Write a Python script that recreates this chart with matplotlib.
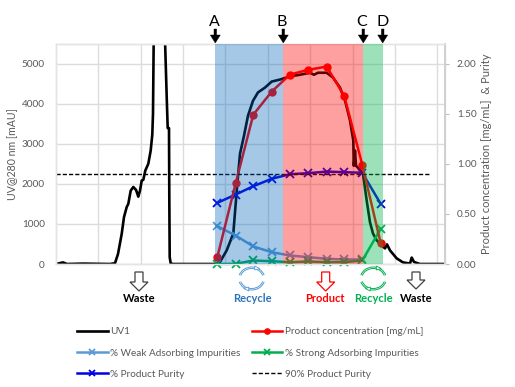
import matplotlib
matplotlib.use("Agg")
import matplotlib.pyplot as plt
from matplotlib.patches import Arc, Polygon
from matplotlib.transforms import Affine2D

W, H = 515, 387
plt.rcParams['font.family'] = ['Lato', 'DejaVu Sans']
GRAY = '#595959'

uv_x = [56, 63, 67, 83, 110, 115, 118, 121.7, 124, 126.7, 128.3, 130.7, 133.3, 136, 138.3, 140, 141.7, 143.3, 145.3, 148.3, 150.7, 152.3, 153, 153.7, 158, 165, 166.7, 167.7, 169, 169.3, 169.7, 170.7, 173, 215,
        220, 226.7, 233.3, 237.3, 240, 244, 248, 253, 258, 265, 271.7, 280, 290, 300, 310, 314, 318, 326.7, 333, 340, 345, 350, 353.3, 353.8, 355, 356, 360, 363, 366.7, 370, 373, 376.7, 381.7, 385, 387, 390, 396.7, 403, 410, 411.7, 414, 420, 445]
uv_y = [0, 40, 0, 10, 0, 20, 250, 750, 1170, 1420, 1500, 1830, 1920, 1850, 1680, 1830, 2080, 2100, 2330, 2500, 2830, 3230, 3750, 5600, 7500, 5600, 4170, 3390, 3390, 1670, 170, 15, 0, 0,
        50, 340, 760, 2000, 2750, 3200, 3700, 4070, 4280, 4400, 4550, 4600, 4680, 4720, 4770, 4720, 4770, 4770, 4650, 4400, 4080, 3580, 3080, 2450, 2830, 2450, 2350, 2250, 1580, 1040, 760, 590, 460, 390, 490, 340, 140, 40, 10, 160, 50, 0, 0]

sample_x = [217.3, 235.7, 253.3, 271.7, 290, 308.3, 326.7, 344.3, 362.3, 380.7]
conc = [0.068, 0.806, 1.49, 1.72, 1.89, 1.937, 1.97, 1.674, 0.99, 0.207]
purity = [0.61, 0.693, 0.776, 0.85, 0.896, 0.906, 0.922, 0.916, 0.91, 0.60]
weak = [0.377, 0.284, 0.175, 0.118, 0.085, 0.068, 0.052, 0.045, 0.045]
strong = [0.0, 0.002, 0.035, 0.028, 0.018, 0.025, 0.018, 0.018, 0.035, 0.351]
target_purity = 0.893
target_x = [56, 431]

left_ticks = [0, 1000, 2000, 3000, 4000, 5000]
right_ticks = [0.0, 0.5, 1.0, 1.5, 2.0]
grid_x = [98.2, 140.5, 182.7, 225.2, 267.7, 310, 352.7, 395, 436.7]
region_edges = [215.3, 283.3, 363.3, 382.7]
region_names = ['A', 'B', 'C', 'D']
region_colors = [('#0062bd', 0.35), ('#ff0000', 0.373), ('#00b34d', 0.39)]

fig = plt.figure(figsize=(W / 100, H / 100), dpi=100)
ax = fig.add_axes([56 / W, 1 - 264 / H, (445 - 56) / W, (264 - 44) / H])
ax2 = ax.twinx()
ax.set_xlim(56, 445)
ax.set_ylim(0, 5487)
ax2.set_ylim(0, 5487 * 2.0 / 5000)
ax.set_xticks(grid_x)
ax.set_xticklabels([])
ax.set_yticks(left_ticks)
ax2.set_yticks(right_ticks)
ax2.set_yticklabels([f'{v:.2f}' for v in right_ticks])
ax.grid(True, color='#dcdcdc', lw=1.0)
ax.set_axisbelow(True)
ax.tick_params(length=0, labelsize=7.2, labelcolor=GRAY, pad=8)
ax2.tick_params(length=3, width=0.8, color='#bfbfbf', labelsize=7.2, labelcolor=GRAY, pad=5.5)
for a in (ax, ax2):
    a.patch.set_visible(False)
    for s in a.spines.values():
        s.set_color('#e4e4e4')
        s.set_linewidth(1.0)
ax2.spines['right'].set_color('#d0d0d0')
ax2.spines['right'].set_linewidth(1.4)
ax.set_zorder(1)
ax2.set_zorder(2)

l_uv, = ax.plot(uv_x, uv_y, color='black', lw=1.9, label='UV1', solid_joinstyle='round')
mk = dict(ms=6, mew=1.3, lw=1.8, clip_on=False)
l_weak, = ax2.plot(sample_x[:9], weak, color='#5b9bd5', marker='x', label='% Weak Adsorbing Impurities', **mk)
l_pur, = ax2.plot(sample_x, purity, color='#0000e6', marker='x', label='% Product Purity', **mk)
l_strong, = ax2.plot(sample_x, strong, color='#00b050', marker='x', label='% Strong Adsorbing Impurities', **mk)
l_conc, = ax2.plot(sample_x, conc, color='#ff0000', marker='o', ms=5, lw=1.8, clip_on=False, label='Product concentration [mg/mL]')
l_target, = ax2.plot(target_x, [target_purity] * 2, color='black', lw=1.0, dashes=(3, 1.5), label='90% Product Purity')

for i, (c, al) in enumerate(region_colors):
    ax2.axvspan(region_edges[i], region_edges[i + 1], color=c, alpha=al, lw=0, zorder=10)

# figure-pixel transform (origin top-left)
px = Affine2D().scale(1 / W, -1 / H).translate(0, 1) + fig.transFigure


def ftext(x, y, s, **kw):
    fig.text(x, y, s, transform=px, ha='center', va='center', **kw)


def block_arrow(cx, top, bottom, shaft, head, head_len, fc, ec, lw=1.0):
    pts = [(cx - shaft / 2, top), (cx + shaft / 2, top), (cx + shaft / 2, bottom - head_len),
           (cx + head / 2, bottom - head_len), (cx, bottom), (cx - head / 2, bottom - head_len),
           (cx - shaft / 2, bottom - head_len)]
    fig.add_artist(Polygon(pts, closed=True, fc=fc, ec=ec, lw=lw, transform=px, joinstyle='miter'))


def recycle(cx, cy, color):
    for (w, h, t1, t2) in [(26, 23, 15, 165), (26, 23, 195, 345), (23, 20, 15, 165), (23, 20, 195, 345)]:
        fig.add_artist(Arc((cx, cy), w, h, theta1=t1, theta2=t2, transform=px, color=color, lw=0.7))
    fig.add_artist(Polygon([(cx + 3, cy - 12.5), (cx + 8, cy - 10), (cx + 3, cy - 8.5)], closed=True, fc='white', ec=color, lw=0.6, transform=px))
    fig.add_artist(Polygon([(cx - 3, cy + 12.5), (cx - 8, cy + 10), (cx - 3, cy + 8.5)], closed=True, fc='white', ec=color, lw=0.6, transform=px))


for name, x, tx in zip(region_names, region_edges, [214, 282, 362, 382.7]):
    ftext(tx, 21.5, name, fontsize=11.5, color='black')
    block_arrow(x, 29, 43, 2.6, 10, 8, 'black', 'black', lw=0.3)

for x, top, bottom, col in [(139, 272, 291, '#404040'), (325.7, 272, 291, '#ff0000'), (416, 272, 289, '#404040')]:
    block_arrow(x, top, bottom, 8, 18, 9, 'white', col, lw=0.9)
recycle(251.7, 278.5, '#5b9bd5')
recycle(373.3, 278.5, '#00b050')

ftext(139, 299, 'Waste', fontsize=8, fontweight='bold', color='black')
ftext(252, 299, 'Recycle', fontsize=8, fontweight='bold', color='#2e75b6')
ftext(325, 299, 'Product', fontsize=8, fontweight='bold', color='#ff0000')
ftext(373, 299, 'Recycle', fontsize=8, fontweight='bold', color='#00b050')
ftext(416, 299, 'Waste', fontsize=8, fontweight='bold', color='black')
ftext(13, 154.5, 'UV@280 nm [mAU]', fontsize=7.6, color=GRAY, rotation=90)
ftext(486, 154, 'Product concentration [mg/mL]  & Purity', fontsize=8, color=GRAY, rotation=90)

handles = [l_uv, l_weak, l_pur, l_conc, l_strong, l_target]
leg = fig.legend(handles=handles, ncols=2, loc='upper left', bbox_to_anchor=(77 / W, 1 - 327.5 / H), frameon=False,
                 fontsize=7.2, labelcolor=GRAY, handlelength=3.05, handletextpad=0.25, columnspacing=1.15,
                 labelspacing=1.22, borderpad=0, borderaxespad=0, numpoints=1, markerscale=0.75)

fig.savefig('out.png', dpi=100)
